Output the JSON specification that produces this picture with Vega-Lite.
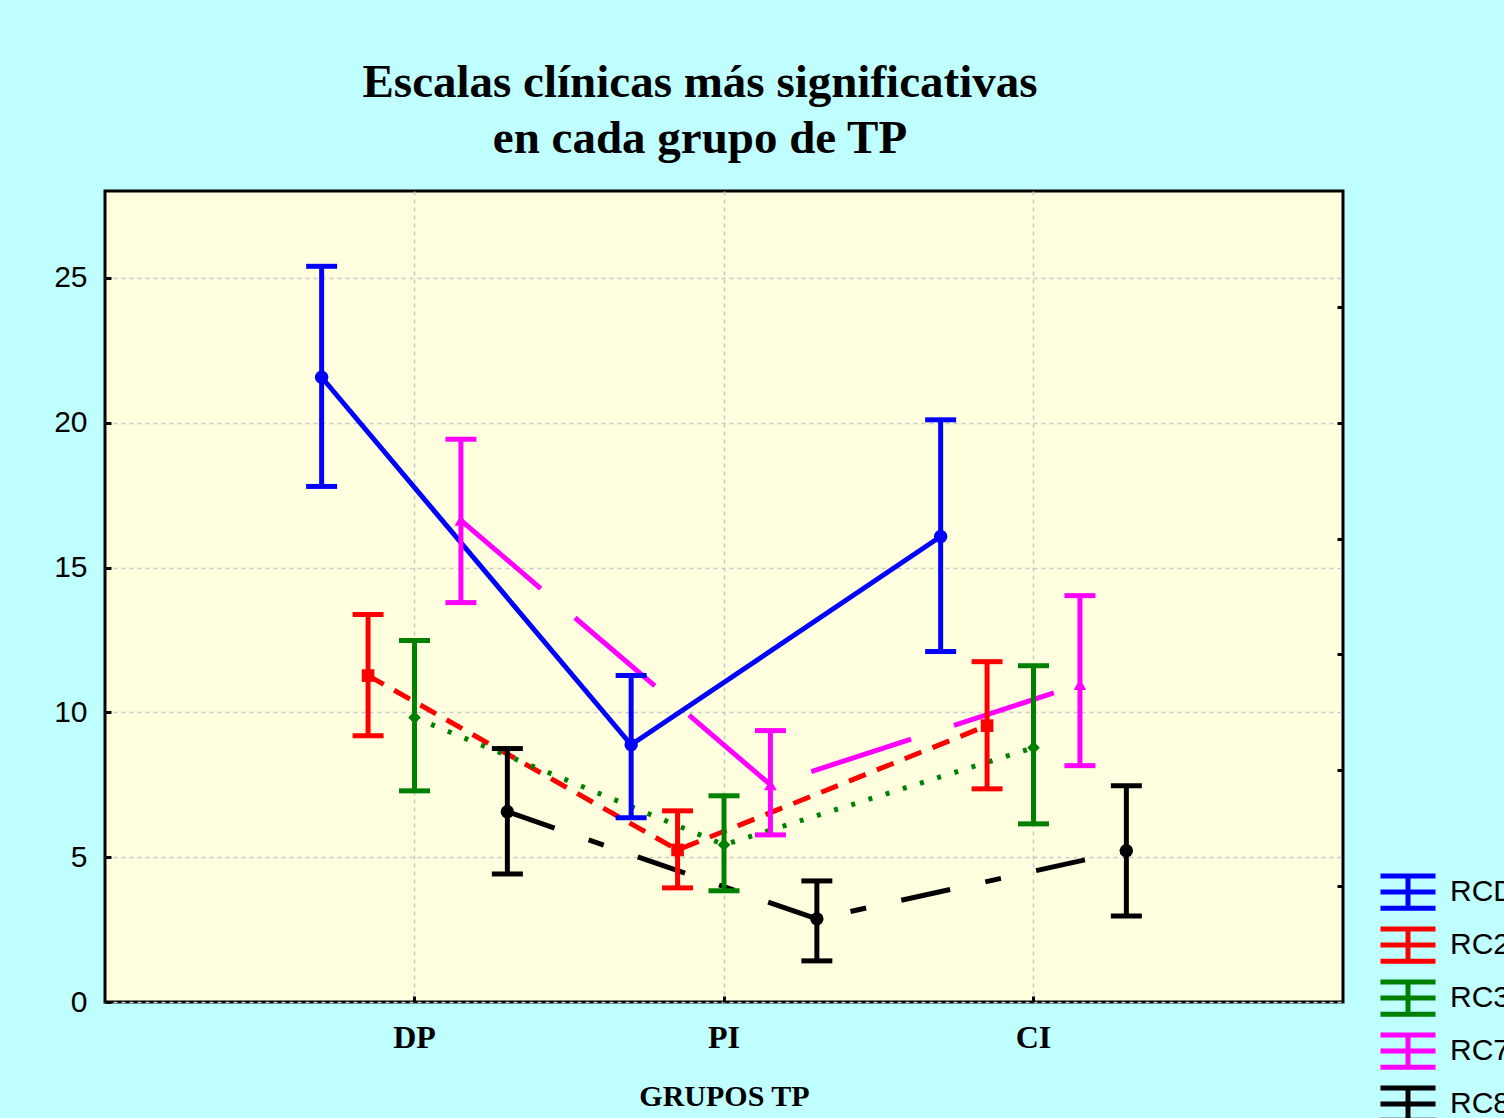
{
  "$schema": "https://vega.github.io/schema/vega-lite/v6.json",
  "width": 1238,
  "height": 811,
  "autosize": {"type": "none"},
  "padding": {"left": 105, "top": 191, "right": 161, "bottom": 116},
  "background": "#bfffff",
  "title": {
    "text": ["Escalas clínicas más significativas", "en cada grupo de TP"],
    "font": "Liberation Serif",
    "fontWeight": "bold",
    "fontSize": 47,
    "lineHeight": 56,
    "color": "#000000",
    "anchor": "middle",
    "dx": -24,
    "offset": 28
  },
  "config": {
    "view": {"fill": "#ffffe0", "stroke": "#000000", "strokeWidth": 3}
  },
  "data": {
    "values": [
      {"grupo": "DP", "escala": "RCD", "media": 21.57, "inf": 17.8, "sup": 25.4},
      {"grupo": "PI", "escala": "RCD", "media": 8.88, "inf": 6.36, "sup": 11.27},
      {"grupo": "CI", "escala": "RCD", "media": 16.07, "inf": 12.1, "sup": 20.1},
      {"grupo": "DP", "escala": "RC2", "media": 11.27, "inf": 9.19, "sup": 13.38},
      {"grupo": "PI", "escala": "RC2", "media": 5.25, "inf": 3.94, "sup": 6.6},
      {"grupo": "CI", "escala": "RC2", "media": 9.54, "inf": 7.36, "sup": 11.75},
      {"grupo": "DP", "escala": "RC3", "media": 9.82, "inf": 7.29, "sup": 12.48},
      {"grupo": "PI", "escala": "RC3", "media": 5.43, "inf": 3.84, "sup": 7.12},
      {"grupo": "CI", "escala": "RC3", "media": 8.78, "inf": 6.15, "sup": 11.61},
      {"grupo": "DP", "escala": "RC7", "media": 16.63, "inf": 13.79, "sup": 19.43},
      {"grupo": "PI", "escala": "RC7", "media": 7.5, "inf": 5.77, "sup": 9.37},
      {"grupo": "CI", "escala": "RC7", "media": 10.96, "inf": 8.16, "sup": 14.03},
      {"grupo": "DP", "escala": "RC8", "media": 6.57, "inf": 4.42, "sup": 8.75},
      {"grupo": "PI", "escala": "RC8", "media": 2.87, "inf": 1.42, "sup": 4.18},
      {"grupo": "CI", "escala": "RC8", "media": 5.22, "inf": 2.97, "sup": 7.47}
    ]
  },
  "encoding": {
    "x": {
      "field": "grupo",
      "type": "nominal",
      "sort": ["DP", "PI", "CI"],
      "scale": {"type": "band", "paddingInner": 0, "paddingOuter": 0.5},
      "axis": {
        "title": "GRUPOS TP",
        "titleFont": "Liberation Serif",
        "titleFontWeight": "bold",
        "titleFontSize": 30,
        "titleColor": "#000000",
        "titlePadding": 28,
        "labelFont": "Liberation Serif",
        "labelFontWeight": "bold",
        "labelFontSize": 32,
        "labelColor": "#000000",
        "labelAngle": 0,
        "labelPadding": 26,
        "domain": false,
        "tickSize": -6,
        "tickWidth": 3,
        "tickColor": "#000000",
        "tickBand": "center",
        "grid": true,
        "gridColor": "#c8c8c8",
        "gridDash": [4, 4],
        "gridWidth": 1.5
      }
    },
    "xOffset": {
      "field": "escala",
      "type": "nominal",
      "sort": ["RCD", "RC2", "RC3", "RC7", "RC8"],
      "scale": {"type": "band", "paddingInner": 0, "paddingOuter": 0.833}
    },
    "color": {
      "field": "escala",
      "type": "nominal",
      "sort": ["RCD", "RC2", "RC3", "RC7", "RC8"],
      "scale": {
        "domain": ["RCD", "RC2", "RC3", "RC7", "RC8"],
        "range": ["#0000ff", "#ff0000", "#008000", "#ff00ff", "#000000"]
      },
      "legend": null
    }
  },
  "resolve": {"axis": {"y": "independent"}},
  "layer": [
    {
      "transform": [{"filter": {"field": "escala", "equal": "RCD"}}],
      "mark": {"type": "line", "strokeWidth": 5},
      "encoding": {
        "y": {
          "field": "media",
          "type": "quantitative",
          "scale": {"domain": [0, 28], "nice": false, "zero": true},
          "axis": {
            "orient": "left",
            "title": null,
            "values": [0, 5, 10, 15, 20, 25],
            "labelFont": "Liberation Sans",
            "labelFontSize": 30,
            "labelColor": "#000000",
            "labelPadding": 24,
            "domain": false,
            "tickSize": -6,
            "tickWidth": 3,
            "tickColor": "#000000",
            "grid": true,
            "gridColor": "#c8c8c8",
            "gridDash": [4, 4],
            "gridWidth": 1.5
          }
        },
        "color": {
          "field": "escala",
          "type": "nominal",
          "sort": ["RCD", "RC2", "RC3", "RC7", "RC8"],
          "legend": {
            "title": null,
            "orient": "none",
            "legendX": 1279,
            "legendY": 677,
            "padding": 0,
            "rowPadding": -1,
            "symbolType": "M-1.28,-0.75H1.28M0,-0.75V0.75M-1.28,0.75H1.28M-1.28,0H1.28",
            "symbolSize": 1849,
            "symbolStrokeWidth": 5,
            "symbolFillColor": "transparent",
            "labelFont": "Liberation Sans",
            "labelFontSize": 30,
            "labelColor": "#000000",
            "labelOffset": 18,
            "labelLimit": 300
          }
        }
      }
    },
    {
      "transform": [{"filter": {"field": "escala", "equal": "RC2"}}],
      "mark": {"type": "line", "strokeWidth": 5, "strokeDash": [18, 12]},
      "encoding": {"y": {"field": "media", "type": "quantitative", "axis": null}}
    },
    {
      "transform": [{"filter": {"field": "escala", "equal": "RC3"}}],
      "mark": {"type": "line", "strokeWidth": 5, "strokeDash": [4, 14]},
      "encoding": {"y": {"field": "media", "type": "quantitative", "axis": null}}
    },
    {
      "transform": [{"filter": {"field": "escala", "equal": "RC7"}}],
      "mark": {"type": "line", "strokeWidth": 5, "strokeDash": [105, 45]},
      "encoding": {"y": {"field": "media", "type": "quantitative", "axis": null}}
    },
    {
      "transform": [{"filter": {"field": "escala", "equal": "RC8"}}],
      "mark": {"type": "line", "strokeWidth": 5, "strokeDash": [50, 36, 16, 36]},
      "encoding": {"y": {"field": "media", "type": "quantitative", "axis": null}}
    },
    {
      "mark": {"type": "rule", "strokeWidth": 5, "opacity": 1},
      "encoding": {
        "y": {
          "field": "inf",
          "type": "quantitative",
          "axis": {
            "orient": "right",
            "title": null,
            "values": [4, 8, 12, 16, 20, 24],
            "labels": false,
            "domain": false,
            "grid": false,
            "tickSize": -6,
            "tickWidth": 3,
            "tickColor": "#000000"
          }
        },
        "y2": {"field": "sup"}
      }
    },
    {
      "mark": {"type": "tick", "thickness": 5, "size": 31, "opacity": 1},
      "encoding": {
        "y": {"field": "inf", "type": "quantitative", "axis": null}
      }
    },
    {
      "mark": {"type": "tick", "thickness": 5, "size": 31, "opacity": 1},
      "encoding": {
        "y": {"field": "sup", "type": "quantitative", "axis": null}
      }
    },
    {
      "transform": [{"filter": {"field": "escala", "oneOf": ["RCD", "RC8"]}}],
      "mark": {"type": "point", "shape": "circle", "filled": true, "size": 180, "opacity": 1},
      "encoding": {
        "y": {"field": "media", "type": "quantitative", "axis": null}
      }
    },
    {
      "transform": [{"filter": {"field": "escala", "equal": "RC2"}}],
      "mark": {"type": "point", "shape": "square", "filled": true, "size": 160, "opacity": 1},
      "encoding": {
        "y": {"field": "media", "type": "quantitative", "axis": null}
      }
    },
    {
      "transform": [{"filter": {"field": "escala", "equal": "RC3"}}],
      "mark": {"type": "point", "shape": "diamond", "filled": true, "size": 160, "opacity": 1},
      "encoding": {
        "y": {"field": "media", "type": "quantitative", "axis": null}
      }
    },
    {
      "transform": [{"filter": {"field": "escala", "equal": "RC7"}}],
      "mark": {"type": "point", "shape": "triangle-up", "filled": true, "size": 160, "opacity": 1},
      "encoding": {
        "y": {"field": "media", "type": "quantitative", "axis": null}
      }
    }
  ]
}
